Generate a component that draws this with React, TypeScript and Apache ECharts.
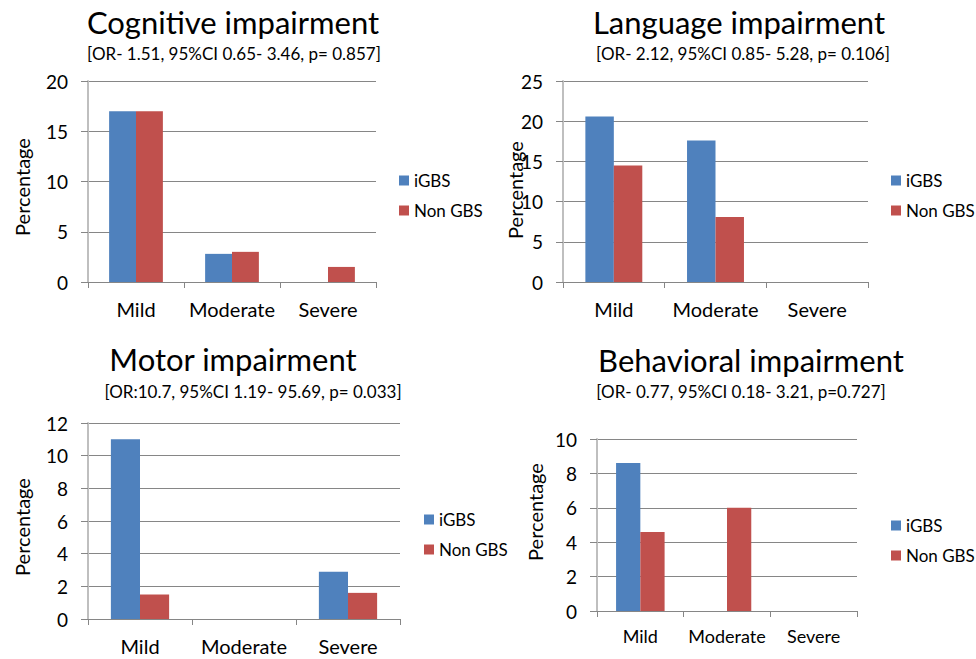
import React, { useEffect, useRef } from "react";
import * as echarts from "echarts";

const categories = ["Mild", "Moderate", "Severe"];
const seriesNames = ["iGBS", "Non GBS"];

const cognitiveIGBS = [17, 2.8, 0];
const cognitiveNonGBS = [17, 3.0, 1.5];
const languageIGBS = [20.6, 17.6, 0];
const languageNonGBS = [14.5, 8.1, 0];
const motorIGBS = [11, 0, 2.9];
const motorNonGBS = [1.5, 0, 1.6];
const behavioralIGBS = [8.6, 0, 0];
const behavioralNonGBS = [4.6, 6.0, 0];

const titles = [
  "Cognitive impairment",
  "Language impairment",
  "Motor impairment",
  "Behavioral impairment",
];
const subtitles = [
  "[OR- 1.51, 95%CI 0.65- 3.46, p= 0.857]",
  "[OR- 2.12, 95%CI 0.85- 5.28, p= 0.106]",
  "[OR:10.7, 95%CI 1.19- 95.69, p= 0.033]",
  "[OR- 0.77, 95%CI 0.18- 3.21, p=0.727]",
];
const yMax = [20, 25, 12, 10];
const yInterval = [5, 5, 2, 2];

const FONT = "Lato, 'Open Sans', sans-serif";
const BLUE = "#4F81BD";
const RED = "#C0504D";

export default function App() {
  const ref = useRef<HTMLDivElement>(null);
  useEffect(() => {
    if (!ref.current) return;
    const chart = echarts.init(ref.current, null, { renderer: "svg" });

    const panels = [
      { grid: { left: 88, top: 81, width: 288, height: 201 }, xFont: 20, xMargin: 17,
        title: [233, 22], sub: [234, 53], legend: [399, 172], yName: [22, 187] },
      { grid: { left: 563, top: 81, width: 305, height: 201 }, xFont: 20, xMargin: 17,
        title: [739, 22], sub: [743, 53], legend: [891, 172], yName: [515, 190] },
      { grid: { left: 88, top: 423, width: 312, height: 196 }, xFont: 20, xMargin: 17,
        title: [233, 359], sub: [253, 391], legend: [424, 511], yName: [22, 527] },
      { grid: { left: 597, top: 439, width: 260, height: 172 }, xFont: 18, xMargin: 16,
        title: [751, 360], sub: [741, 391], legend: [891, 517], yName: [535, 512] },
    ];
    const data = [
      [cognitiveIGBS, cognitiveNonGBS],
      [languageIGBS, languageNonGBS],
      [motorIGBS, motorNonGBS],
      [behavioralIGBS, behavioralNonGBS],
    ];

    const graphics: any[] = [];
    panels.forEach((p, i) => {
      graphics.push({
        type: "text", x: p.title[0], y: p.title[1],
        style: { text: titles[i], font: `31px ${FONT}`, fill: "#000", align: "center", verticalAlign: "middle" },
      });
      graphics.push({
        type: "text", x: p.sub[0], y: p.sub[1],
        style: { text: subtitles[i], font: `17px ${FONT}`, fill: "#000", align: "center", verticalAlign: "middle" },
      });
      graphics.push({
        type: "text", x: p.yName[0], y: p.yName[1], rotation: Math.PI / 2,
        style: { text: "Percentage", font: `20px ${FONT}`, fill: "#000", align: "center", verticalAlign: "middle" },
      });
    });

    const option: any = {
      animation: false,
      backgroundColor: "#fff",
      grid: panels.map((p) => ({ ...p.grid, containLabel: false })),
      xAxis: panels.map((p, i) => ({
        type: "category",
        gridIndex: i,
        data: categories,
        axisLine: { show: true, lineStyle: { color: "#868686", width: 1 } },
        axisTick: { show: true, length: 6, lineStyle: { color: "#868686" } },
        axisLabel: { interval: 0, fontSize: p.xFont, color: "#000", fontFamily: FONT, margin: p.xMargin },
        splitLine: { show: false },
      })),
      yAxis: panels.map((p, i) => ({
        type: "value",
        gridIndex: i,
        min: 0,
        max: yMax[i],
        interval: yInterval[i],
        axisLine: { show: true, lineStyle: { color: "#bfbfbf", width: 2 } },
        axisTick: { show: true, length: 7, lineStyle: { color: "#868686" } },
        axisLabel: { fontSize: 19, color: "#000", fontFamily: FONT, margin: 20 },
        splitLine: { show: true, lineStyle: { color: "#868686", width: 1 } },
      })),
      legend: panels.map((p) => ({
        orient: "vertical",
        left: p.legend[0],
        top: p.legend[1],
        padding: 0,
        data: seriesNames,
        icon: "rect",
        itemWidth: 10,
        itemHeight: 10,
        itemGap: 13,
        textStyle: { fontSize: 17, color: "#000", fontFamily: FONT },
        selectedMode: false,
      })),
      series: data.flatMap((pair, i) =>
        pair.map((vals, j) => ({
          type: "bar",
          name: seriesNames[j],
          xAxisIndex: i,
          yAxisIndex: i,
          data: vals,
          barGap: "0%",
          barCategoryGap: "44%",
          itemStyle: { color: j === 0 ? BLUE : RED },
        }))
      ),
      graphic: graphics,
    };
    chart.setOption(option);
    return () => chart.dispose();
  }, []);
  return (
    <div
      ref={ref}
      style={{ position: "fixed", left: 0, top: 0, width: 976, height: 659, background: "#fff" }}
    />
  );
}
